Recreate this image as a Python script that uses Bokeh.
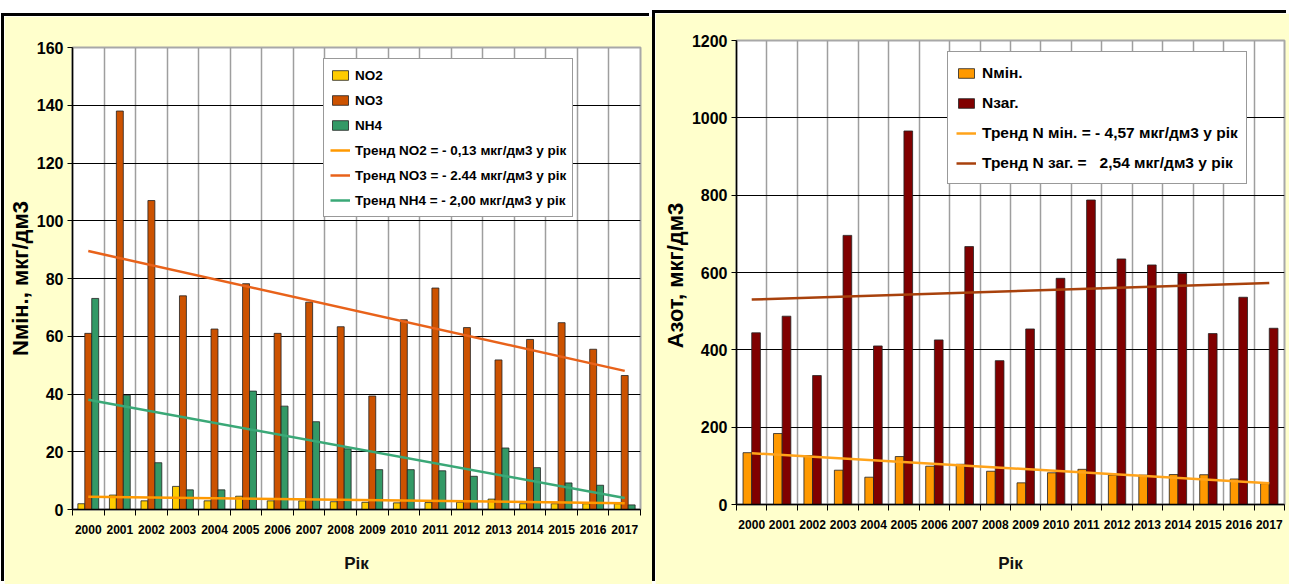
from bokeh.plotting import figure
from bokeh.models import (Range1d, FixedTicker, SingleIntervalTicker, Legend, LegendItem,
                          ColumnDataSource, Spacer)
from bokeh.transform import dodge
from bokeh.layouts import row, column
from bokeh.embed import file_html
from bokeh.resources import INLINE

# ---------------- data ----------------
years = ["2000", "2001", "2002", "2003", "2004", "2005", "2006", "2007", "2008",
         "2009", "2010", "2011", "2012", "2013", "2014", "2015", "2016", "2017"]

no2 = [2.0, 5.0, 3.0, 8.0, 3.0, 4.6, 3.0, 3.0, 2.7, 2.5, 2.3, 2.4, 2.5, 3.6, 2.0, 2.0, 2.0, 2.0]
no3 = [61.0, 138.0, 107.0, 74.0, 62.5, 78.2, 61.0, 71.8, 63.3, 39.3, 65.7, 76.7, 63.0, 51.8,
       58.9, 64.7, 55.5, 46.4]
nh4 = [73.1, 39.6, 16.2, 6.8, 6.8, 41.0, 35.8, 30.4, 21.0, 13.8, 13.8, 13.4, 11.5, 21.3,
       14.5, 9.2, 8.4, 1.6]

trend_years = ["2000", "2017"]
trend_no2 = [4.4, 2.2]
trend_no3 = [89.5, 48.0]
trend_nh4 = [38.0, 4.0]

n_min = [134.0, 183.5, 126.5, 88.7, 70.6, 124.0, 99.0, 104.0, 86.0, 56.0, 82.0, 91.0, 76.0,
         76.0, 77.5, 77.0, 66.0, 54.0]
n_zag = [444.0, 487.0, 333.5, 696.0, 410.0, 966.0, 425.6, 667.0, 372.0, 454.0, 585.0, 787.5,
         635.0, 619.5, 598.0, 442.0, 536.0, 455.8]
trend_nmin = [132.5, 54.8]
trend_nzag = [530.0, 573.0]

left_labels = ["NO2", "NO3", "NH4",
               "Тренд NO2 = - 0,13 мкг/дм3 у рік",
               "Тренд NO3 = - 2.44 мкг/дм3 у рік",
               "Тренд NH4 = - 2,00 мкг/дм3 у рік"]
right_labels = ["Nмін.", "Nзаг.",
                "Тренд N мін. = - 4,57 мкг/дм3 у рік",
                "Тренд N заг. =   2,54 мкг/дм3 у рік"]

# ---------------- style ----------------
YEL = "#FFFFCC"
FONT = "Liberation Sans"

idx = list(range(len(years)))
centers = idx
bounds = [i - 0.5 for i in range(len(years) + 1)]
overrides = {i: y for i, y in zip(idx, years)}
t_idx = [years.index(t) for t in trend_years]


def base_fig(w, h, ymax, step, bl, bt, bb, br, ylabel, xstand):
    p = figure(width=w, height=h, x_range=Range1d(-0.5, len(years) - 0.5),
               y_range=Range1d(0, ymax), output_backend="svg", toolbar_location=None,
               min_border_left=bl, min_border_top=bt, min_border_bottom=bb,
               min_border_right=br, background_fill_color="white",
               border_fill_color=YEL, outline_line_color="#A8A8A8", outline_line_width=2)
    # x axis
    xa = p.xaxis[0]
    xa.ticker = FixedTicker(ticks=centers, minor_ticks=bounds)
    xa.major_label_overrides = overrides
    xa.major_tick_line_color = None
    xa.minor_tick_in = 0
    xa.minor_tick_out = 6
    xa.minor_tick_line_color = "black"
    xa.axis_line_color = "black"
    xa.axis_line_width = 1.5
    xa.major_label_text_font = FONT
    xa.major_label_text_font_style = "bold"
    xa.major_label_text_font_size = "12px"
    xa.major_label_text_color = "black"
    xa.major_label_standoff = 9
    xa.axis_label = "Рік"
    xa.axis_label_text_font = FONT
    xa.axis_label_text_font_style = "bold"
    xa.axis_label_text_font_size = "17px"
    xa.axis_label_text_color = "#111111"
    xa.axis_label_standoff = xstand
    # y axis
    ya = p.yaxis[0]
    ya.ticker = SingleIntervalTicker(interval=step, num_minor_ticks=0)
    ya.minor_tick_line_color = None
    ya.major_tick_in = 0
    ya.major_tick_out = 5
    ya.major_tick_line_color = "black"
    ya.axis_line_color = "black"
    ya.axis_line_width = 1.5
    ya.major_label_text_font = FONT
    ya.major_label_text_font_style = "bold"
    ya.major_label_text_font_size = "16px"
    ya.major_label_text_color = "black"
    ya.major_label_standoff = 4
    ya.axis_label = ylabel
    ya.axis_label_text_font = FONT
    ya.axis_label_text_font_style = "bold"
    ya.axis_label_text_font_size = "22px"
    ya.axis_label_text_color = "black"
    ya.axis_label_standoff = 1
    # grids
    p.xgrid.ticker = FixedTicker(ticks=bounds)
    p.xgrid.grid_line_color = "#9E9E9E"
    p.xgrid.grid_line_width = 1.5
    p.ygrid.grid_line_color = "black"
    p.ygrid.grid_line_width = 1
    return p


# ---------------- left chart ----------------
src_l = ColumnDataSource(dict(x=idx, no2=no2, no3=no3, nh4=nh4))
left = base_fig(648, 568, 160, 20, 68, 31, 75, 12, "Nмін., мкг/дм3", 17)
bw = 0.22
r_no2 = left.vbar(x=dodge("x", -bw, range=left.x_range), top="no2", width=bw, source=src_l,
                  fill_color="#FFCC00", line_color="#222222", line_width=0.8)
r_no3 = left.vbar(x=dodge("x", 0.0, range=left.x_range), top="no3", width=bw, source=src_l,
                  fill_color="#CC5200", line_color="#222222", line_width=0.8)
r_nh4 = left.vbar(x=dodge("x", bw, range=left.x_range), top="nh4", width=bw, source=src_l,
                  fill_color="#339966", line_color="#222222", line_width=0.8)
tsrc_l = ColumnDataSource(dict(x=t_idx, no2=trend_no2, no3=trend_no3, nh4=trend_nh4))
t_no2 = left.line("x", "no2", source=tsrc_l, line_color="#FF9900", line_width=2.5)
t_no3 = left.line("x", "no3", source=tsrc_l, line_color="#E8621A", line_width=2.5)
t_nh4 = left.line("x", "nh4", source=tsrc_l, line_color="#3AA877", line_width=2.5)

leg_l = Legend(items=[LegendItem(label=l, renderers=[r]) for l, r in
                      zip(left_labels, [r_no2, r_no3, r_nh4, t_no2, t_no3, t_nh4])],
               location=(251, 292), padding=6, spacing=5, label_height=20, glyph_height=12,
               glyph_width=20, label_standoff=5, margin=0,
               label_text_font=FONT, label_text_font_style="bold",
               label_text_font_size="13.5px", label_text_color="black",
               border_line_color="#333333", border_line_width=1,
               background_fill_color="white", background_fill_alpha=1.0)
left.add_layout(leg_l)
left.styles = {"box-shadow": "-3px -3px 0 0 #000000"}

# ---------------- right chart ----------------
src_r = ColumnDataSource(dict(x=idx, nmin=n_min, nzag=n_zag))
right = base_fig(634, 571, 1200, 200, 81, 27, 80, 5, "Азот,  мкг/дм3", 22)
bw2 = 0.285
r_min = right.vbar(x=dodge("x", -bw2 / 2, range=right.x_range), top="nmin", width=bw2,
                   source=src_r, fill_color="#FF9900", line_color="#222222", line_width=0.8)
r_zag = right.vbar(x=dodge("x", bw2 / 2, range=right.x_range), top="nzag", width=bw2,
                   source=src_r, fill_color="#800000", line_color="#222222", line_width=0.8)
tsrc_r = ColumnDataSource(dict(x=t_idx, nmin=trend_nmin, nzag=trend_nzag))
t_min = right.line("x", "nmin", source=tsrc_r, line_color="#FFA31A", line_width=2.5)
t_zag = right.line("x", "nzag", source=tsrc_r, line_color="#A8410C", line_width=2.5)

leg_r = Legend(items=[LegendItem(label=l, renderers=[r]) for l, r in
                      zip(right_labels, [r_min, r_zag, t_min, t_zag])],
               location=(211, 320), padding=8, spacing=5, label_height=25, glyph_height=12,
               glyph_width=20, label_standoff=6, margin=0,
               label_text_font=FONT, label_text_font_style="bold",
               label_text_font_size="15.5px", label_text_color="black",
               border_line_color="#333333", border_line_width=1,
               background_fill_color="white", background_fill_alpha=1.0)
right.add_layout(leg_r)
right.styles = {"box-shadow": "-3px -3px 0 0 #000000"}

layout = row(Spacer(width=4),
             column(Spacer(height=16), left),
             Spacer(width=3),
             column(Spacer(height=13), right))

open("out.html", "w").write(file_html(layout, INLINE))
